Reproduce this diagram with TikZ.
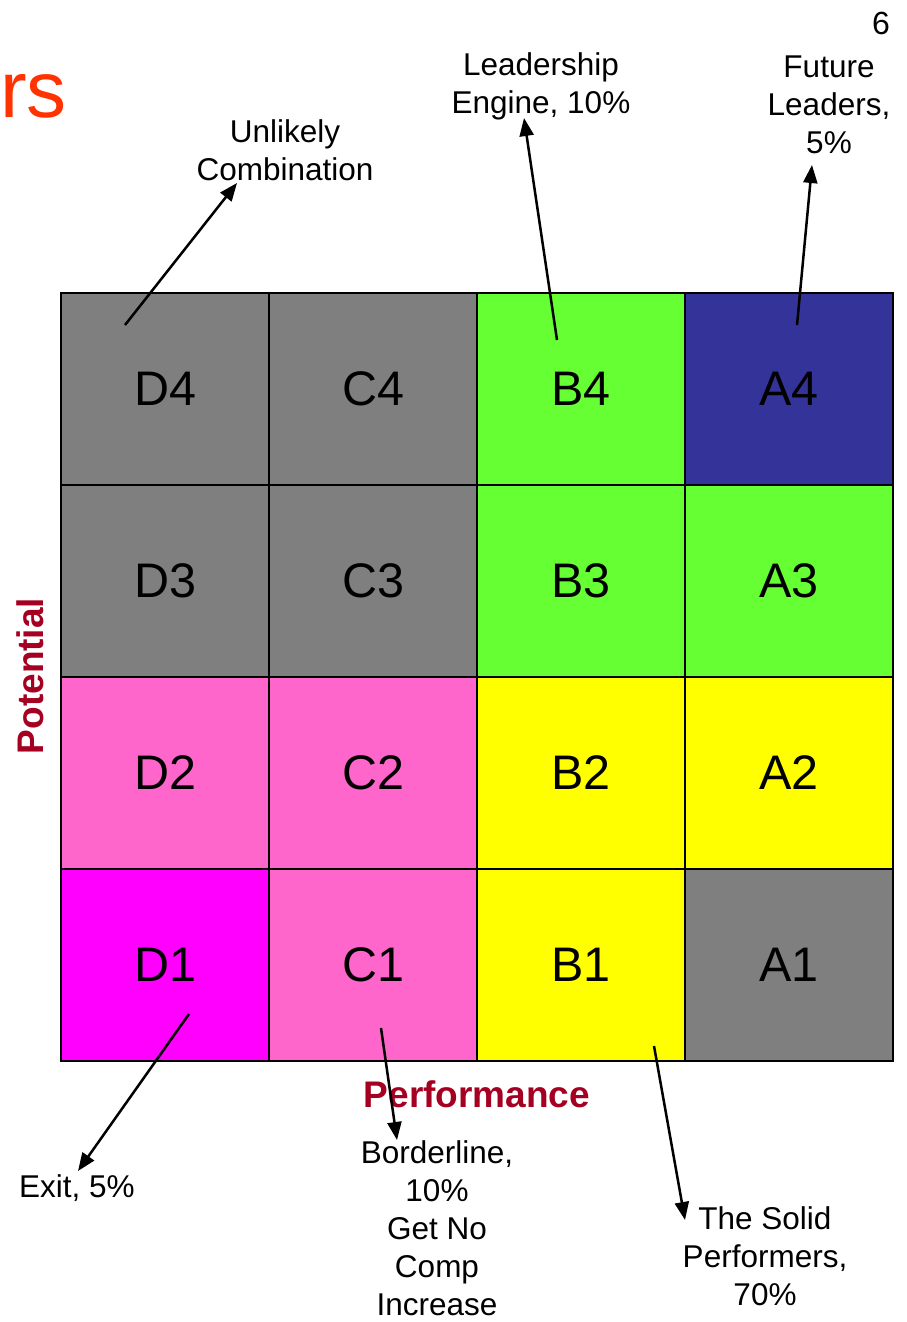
\documentclass[tikz,border=0pt]{standalone}
\usepackage{fontspec}
\setmainfont{Liberation Sans}
\usetikzlibrary{arrows.meta}
\definecolor{cgray}{HTML}{7F7F7F}
\definecolor{cgreen}{HTML}{66FF33}
\definecolor{cblue}{HTML}{333399}
\definecolor{cpink}{HTML}{FF66CC}
\definecolor{cmag}{HTML}{FF00FF}
\definecolor{cyel}{HTML}{FFFF00}
\definecolor{axisred}{HTML}{A50021}
\definecolor{titleorange}{HTML}{FF3300}
\begin{document}
\begin{tikzpicture}[x=1pt,y=-1pt,
  cell/.style={draw=black,line width=2.5pt,minimum width=208pt,minimum height=192pt,inner sep=0pt,outer sep=0pt,font=\fontsize{48.5}{52}\selectfont},
  lbl/.style={align=center,inner sep=0pt,font=\fontsize{31.5}{38}\selectfont},
  axis/.style={inner sep=0pt,text=axisred,font=\fontsize{37}{42}\selectfont\bfseries},
  pointer/.style={line width=2.5pt,-{Triangle[length=18pt,width=14pt]}}]
\useasboundingbox (0,0) rectangle (907,1322);
% grid cells
\node[cell,fill=cgray]  (D4) at (165,389) {D4};
\node[cell,fill=cgray]  (C4) at (373,389) {C4};
\node[cell,fill=cgreen] (B4) at (581,389) {B4};
\node[cell,fill=cblue]  (A4) at (789,389) {A4};
\node[cell,fill=cgray]  (D3) at (165,581) {D3};
\node[cell,fill=cgray]  (C3) at (373,581) {C3};
\node[cell,fill=cgreen] (B3) at (581,581) {B3};
\node[cell,fill=cgreen] (A3) at (789,581) {A3};
\node[cell,fill=cpink]  (D2) at (165,773) {D2};
\node[cell,fill=cpink]  (C2) at (373,773) {C2};
\node[cell,fill=cyel]   (B2) at (581,773) {B2};
\node[cell,fill=cyel]   (A2) at (789,773) {A2};
\node[cell,fill=cmag]   (D1) at (165,965) {D1};
\node[cell,fill=cpink]  (C1) at (373,965) {C1};
\node[cell,fill=cyel]   (B1) at (581,965) {B1};
\node[cell,fill=cgray]  (A1) at (789,965) {A1};
% title fragment and page number
\node[anchor=base west,inner sep=0pt,text=titleorange,font=\fontsize{80}{86}\selectfont] (title) at (0,117) {rs};
\node[anchor=base east,inner sep=0pt,font=\fontsize{32}{36}\selectfont] (page) at (890,35) {6};
% axis labels
\node[axis,rotate=90] (pot) at (30,676) {Potential};
\node[axis] (perf) at (477,1094) {Performance};
% annotation texts
\node[lbl] (unlikely) at (285,150) {Unlikely\\Combination};
\node[lbl] (leader) at (541,86) {Leadership\\Engine, 10\%};
\node[lbl] (future) at (829,105) {Future\\Leaders,\\5\%};
\node[lbl,anchor=west] (exit) at (19,1188) {Exit, 5\%};
\node[lbl] (border) at (437,1228) {Borderline,\\10\%\\Get No\\Comp\\Increase};
\node[lbl] (solid) at (765,1256) {The Solid\\Performers,\\70\%};
% pointer coordinates
\coordinate (s1) at (125,325); \coordinate (e1) at (237,183);
\coordinate (s2) at (557,340); \coordinate (e2) at (524,118);
\coordinate (s3) at (797,325); \coordinate (e3) at (812,165);
\coordinate (s4) at (189,1014); \coordinate (e4) at (78,1171);
\coordinate (s5) at (381,1028); \coordinate (e5) at (397,1140);
\coordinate (s6) at (654,1046); \coordinate (e6) at (685,1220);
\draw[pointer] (s1) -- (e1);
\draw[pointer] (s2) -- (e2);
\draw[pointer] (s3) -- (e3);
\draw[pointer] (s4) -- (e4);
\draw[pointer] (s5) -- (e5);
\draw[pointer] (s6) -- (e6);
\end{tikzpicture}
\end{document}
